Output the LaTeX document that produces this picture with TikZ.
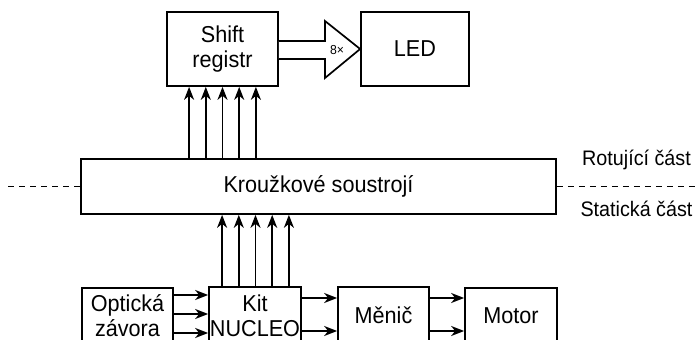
\documentclass[tikz,border=0pt]{standalone}
\usepackage{fontspec}
\setmainfont{Liberation Sans}[FakeStretch=0.94]
\usetikzlibrary{arrows.meta}
\tikzset{
  blk/.style={draw, line width=1.7pt, inner sep=0pt, align=center, fill=white,
    font=\fontsize{23}{25}\selectfont},
  arr/.style={line width=1.7pt, -{Stealth[length=13pt,width=10pt,inset=4pt]}},
  dsh/.style={line width=1.7pt, dash pattern=on 6pt off 5pt},
  side/.style={font=\fontsize{21}{22}\selectfont, inner sep=0pt}
}
\begin{document}
\begin{tikzpicture}[x=1pt,y=-1pt]
\useasboundingbox (0,0) rectangle (697,340);
\clip (0,0) rectangle (697,340);
% boxes
\node[blk, minimum width=111pt, minimum height=74pt] (shift) at (222.5,49) {Shift\\registr};
\node[blk, minimum width=108pt, minimum height=74pt] (led) at (415,49) {LED};
\node[blk, minimum width=475pt, minimum height=55pt] (krou) at (318.5,186.5) {Kroužkové soustrojí};
\node[blk, minimum width=91pt, minimum height=56pt] (opt) at (127.5,316) {Optická\\závora};
\node[blk, minimum width=92pt, minimum height=57pt] (kit) at (255,315.5) {Kit\\NUCLEO};
\node[blk, minimum width=91pt, minimum height=57pt] (menic) at (383.5,315.5) {Měnič};
\node[blk, minimum width=92pt, minimum height=56pt] (motor) at (511,316) {Motor};
% fat arrow
\draw[line width=1.7pt, fill=white, line join=miter]
  (shift.east |- 0,41) -- (325,41) -- (325,21) -- (led.west) -- (325,78) -- (325,59) -- (shift.east |- 0,59);
\node[inner sep=0pt, font=\fontsize{13}{14}\selectfont] (lbl) at (337,50) {8×};
% bus arrows
\foreach \d in {-33.4,-16.7,0,16.7,33.4}{
  \path (shift.south |- krou.north) ++(\d,0) coordinate (a);
  \draw[arr] (a) -- (a |- shift.south);
  \path (kit.north |- krou.south) ++(\d+0.5,0) coordinate (b);
  \path (b |- kit.north) coordinate (bb);
  \draw[arr] (bb) -- (b);
}
% optical to kit
\foreach \d in {-21,-2,17}{
  \path (opt.east) ++(0,\d) coordinate (c);
  \draw[arr] (c) -- (c -| kit.west);
}
% kit to menic, menic to motor
\foreach \d in {-17.5,15.5}{
  \path (kit.east) ++(0,\d) coordinate (e);
  \draw[arr] (e) -- (e -| menic.west);
  \path (menic.east) ++(0,\d) coordinate (f);
  \draw[arr] (f) -- (f -| motor.west);
}
% dashed separators
\coordinate (dl) at (8,186.5);
\coordinate (dr) at (697,186.5);
\draw[dsh] (dl) -- (krou.west);
\draw[dsh] (krou.east) -- (dr);
% side labels
\node[side] (rot) at (636.5,160) {Rotující část};
\node[side] (stat) at (636.5,209) {Statická část};
\end{tikzpicture}
\end{document}
